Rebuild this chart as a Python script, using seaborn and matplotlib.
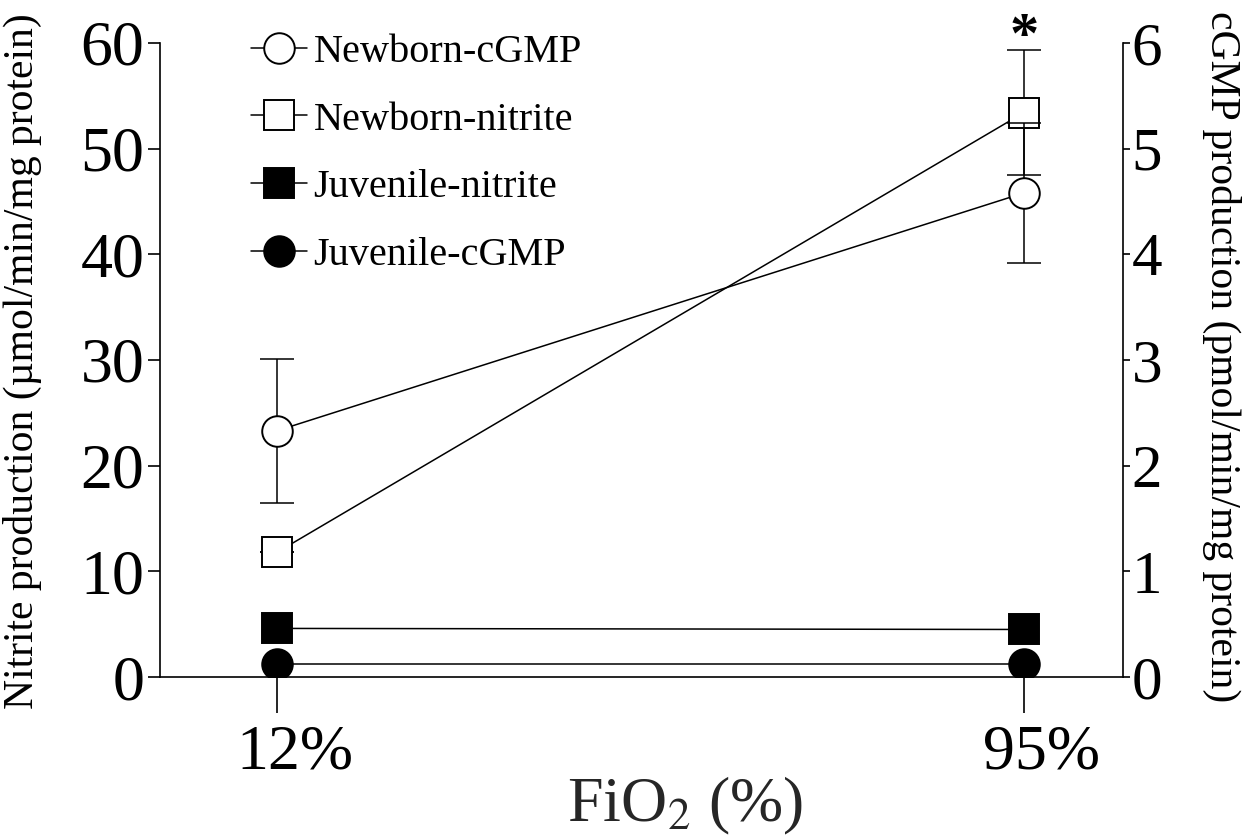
import numpy as np
import pandas as pd
import seaborn as sns
import matplotlib.pyplot as plt
import matplotlib.transforms as mtransforms
from matplotlib.lines import Line2D

# data
fio2 = ["12%", "95%"]
newborn_nitrite = [11.8, 53.4]
newborn_nitrite_err = [0.0, 5.9]
juvenile_nitrite = [4.6, 4.5]
newborn_cgmp = [2.33, 4.58]
newborn_cgmp_err = [0.68, 0.66]
juvenile_cgmp = [0.12, 0.12]

sns.set_style("ticks")
plt.rcParams['font.family'] = ['Liberation Serif', 'DejaVu Serif']
plt.rcParams['mathtext.fontset'] = 'stix'
plt.rcParams['text.color'] = 'black'
plt.rcParams['xtick.color'] = 'black'
plt.rcParams['ytick.color'] = 'black'
plt.rcParams['axes.edgecolor'] = 'black'

xpos = np.arange(len(fio2))
df = pd.DataFrame({"x": xpos,
                   "nb_no2": newborn_nitrite, "juv_no2": juvenile_nitrite,
                   "nb_cgmp": newborn_cgmp, "juv_cgmp": juvenile_cgmp})

fig = plt.figure(figsize=(12.48, 8.4), dpi=100)
ax = fig.add_axes([0.128, 0.194, 0.772, 0.755])
ax2 = ax.twinx()

lw = 1.1
ms = 22
line_kw = dict(color="black", linewidth=lw, markeredgecolor="black",
               markeredgewidth=1.4, markersize=ms)

# nitrite on left axis
ax.errorbar(xpos, newborn_nitrite, yerr=newborn_nitrite_err, fmt="none",
            ecolor="black", elinewidth=lw, capsize=12, capthick=lw, zorder=2)
sns.lineplot(data=df, x="x", y="juv_no2", ax=ax, marker="s",
             markerfacecolor="black", zorder=3, **line_kw)
sns.lineplot(data=df, x="x", y="nb_no2", ax=ax, marker="s",
             markerfacecolor="white", zorder=4, **line_kw)

# cGMP on right axis
ax2.errorbar(xpos, newborn_cgmp, yerr=newborn_cgmp_err, fmt="none",
             ecolor="black", elinewidth=lw, capsize=12, capthick=lw, zorder=2)
sns.lineplot(data=df, x="x", y="juv_cgmp", ax=ax2, marker="o",
             markerfacecolor="black", zorder=3, **line_kw)
sns.lineplot(data=df, x="x", y="nb_cgmp", ax=ax2, marker="o",
             markerfacecolor="white", zorder=4, **line_kw)

ax.set_xlim(-0.157, 1.133)
ax.set_ylim(0, 60)
ax2.set_ylim(0, 6)
ax.set_yticks(np.arange(0, 61, 10))
ax2.set_yticks(np.arange(0, 7, 1))
ax.set_xticks(xpos)
ax.set_xticklabels(fio2, fontsize=46)
ax.tick_params(axis="y", labelsize=46, length=9, width=1.2, pad=2)
ax2.tick_params(axis="y", labelsize=44, length=5, width=1.2, pad=1)
ax.tick_params(axis="x", length=26, width=1.2, pad=8)

# x tick labels sit a little right of their ticks in the original
shift = mtransforms.ScaledTranslation(18 / 100, 0, fig.dpi_scale_trans)
for lab in ax.get_xticklabels():
    lab.set_transform(lab.get_transform() + shift)

for a in (ax, ax2):
    a.set_xlabel("")
    a.set_ylabel("")
    a.spines["top"].set_visible(False)
    for s in ["left", "right", "bottom"]:
        a.spines[s].set_linewidth(1.2)
ax.spines["right"].set_visible(False)
ax2.spines["left"].set_visible(False)
ax2.spines["bottom"].set_visible(False)

ax.set_xlabel("FiO$_2$ (%)", fontsize=46)
ax.xaxis.set_label_coords(0.545, -0.155)
fig.text(0.018, 0.57, "Nitrite production (\u00b5mol/min/mg protein)",
         rotation=90, va="center", ha="center", fontsize=30)
fig.text(0.979, 0.575, "cGMP production (pmol/min/mg protein)",
         rotation=270, va="center", ha="center", fontsize=30)

ax2.text(1, 6.05, "*", ha="center", va="center", fontsize=42,
         fontweight="bold", clip_on=False)

handles = [
    Line2D([], [], marker="o", markerfacecolor="white", **line_kw),
    Line2D([], [], marker="s", markerfacecolor="white", **line_kw),
    Line2D([], [], marker="s", markerfacecolor="black", **line_kw),
    Line2D([], [], marker="o", markerfacecolor="black", **line_kw),
]
labels = ["Newborn-cGMP", "Newborn-nitrite", "Juvenile-nitrite", "Juvenile-cGMP"]
ax2.legend(handles, labels, loc="upper left", bbox_to_anchor=(0.078, 1.04),
           frameon=False, fontsize=29, handlelength=1.4, handletextpad=0.15,
           labelspacing=0.76, borderaxespad=0)

fig.savefig("out.png", dpi=100)
